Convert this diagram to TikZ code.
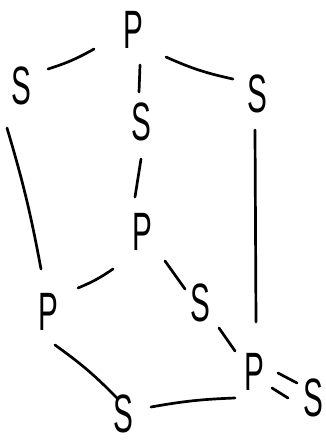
\documentclass[tikz,border=0pt]{standalone}
\usepackage{fontspec}
\usepackage{graphicx}
\setmainfont{Liberation Sans}
\usetikzlibrary{calc}
\tikzset{
  lbl/.style={inner sep=0pt, font=\fontsize{54}{54}\selectfont},
  bond/.style={line width=2.7pt, line cap=round, black}
}
\newcommand{\ltr}[1]{\scalebox{0.55}[1]{#1}}
\begin{document}
\begin{tikzpicture}[x=1pt,y=-1pt]
\useasboundingbox (0,0) rectangle (325,445);
\node[lbl] (P1) at (133,30) {\ltr{P}};
\node[lbl] (S1) at (21,86) {\ltr{S}};
\node[lbl] (S2) at (141,122) {\ltr{S}};
\node[lbl] (S3) at (257,94) {\ltr{S}};
\node[lbl] (P2) at (142,232) {\ltr{P}};
\node[lbl] (P3) at (48,312) {\ltr{P}};
\node[lbl] (S4) at (200,303) {\ltr{S}};
\node[lbl] (P4) at (254,372) {\ltr{P}};
\node[lbl] (S5) at (313,398) {\ltr{S}};
\node[lbl] (S6) at (123,414) {\ltr{S}};
% connectors
\draw[bond] ($(P1)+(-39,19)$) to[bend left=6] ($(S1)+(27,-17)$);
\draw[bond] ($(P1)+(7,35)$) -- ($(S2)+(-2,-30)$);
\draw[bond] ($(P1)+(33,27)$) to[bend right=6] ($(S3)+(-24,-15)$);
\draw[bond] ($(S2)+(0,37)$) -- ($(P2)+(-7,-35)$);
\draw[bond] ($(S1)+(-14,42)$) to[bend left=3] ($(P3)+(-7,-43)$);
\draw[bond] ($(S3)+(-2,36)$) -- ($(P4)+(2,-50)$);
\draw[bond] ($(P2)+(-29,37)$) to[bend left=6] ($(P3)+(30,-24)$);
\draw[bond] ($(P2)+(23,29)$) -- ($(S4)+(-15,-14)$);
\draw[bond] ($(S4)+(19,25)$) -- ($(P4)+(-19,-21)$);
\draw[bond] ($(P3)+(7,33)$) to[bend left=5] ($(S6)+(-6,-16)$);
\draw[bond] ($(S6)+(28,-7)$) to[bend left=4] ($(P4)+(-19,26)$);
\draw[bond] ($(P4)+(24,1)$) -- ($(S5)+(-16,-15)$);
\draw[bond] ($(P4)+(18,16)$) -- ($(S5)+(-25,0)$);
\end{tikzpicture}
\end{document}
